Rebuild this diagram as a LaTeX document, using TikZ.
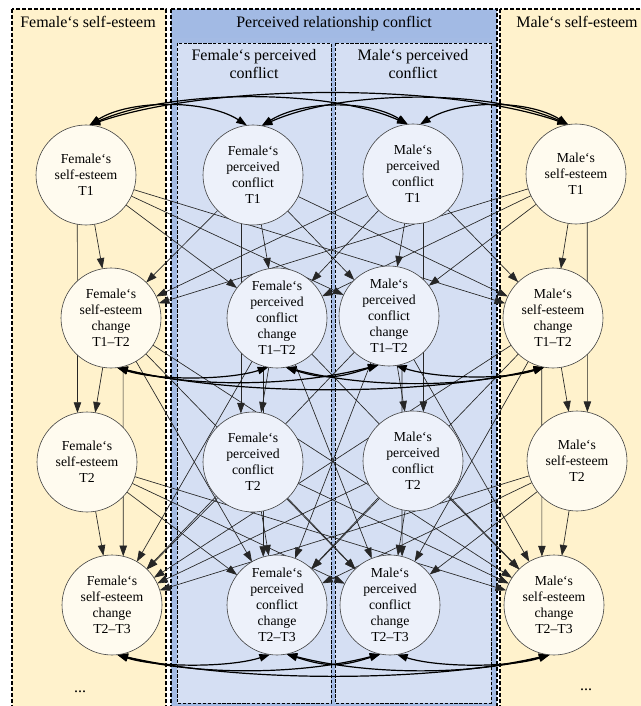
\documentclass[tikz,border=0pt]{standalone}
\usepackage{fontspec}
\setmainfont{Liberation Serif}
\usetikzlibrary{arrows.meta}
\pgfdeclarelayer{bg}
\pgfdeclarelayer{edges}
\pgfsetlayers{bg,edges,main}
\definecolor{beige}{HTML}{FFF2CC}
\definecolor{beigenode}{HTML}{FFFBEF}
\definecolor{bluebody}{HTML}{A4BBE4}
\definecolor{bluehead}{HTML}{A2BAE4}
\definecolor{blueinner}{HTML}{D5DFF3}
\definecolor{bluenode}{HTML}{EDF1FA}
\tikzset{
  var/.style={circle, draw=black!75, line width=0.45pt, minimum size=75pt, inner sep=0pt, outer sep=0pt, align=center, font=\fontsize{10.3}{12}\selectfont},
  fsnode/.style={var, fill=beigenode},
  bcnode/.style={var, fill=bluenode},
  reg/.style={-{Triangle[length=8pt,width=5.6pt]}, line width=0.5pt, black!85},
  cov/.style={{Triangle[length=8pt,width=5.6pt]}-{Triangle[length=8pt,width=5.6pt]}, line width=0.9pt, black},
  panelline/.style={draw=black, line width=0.9pt, dash pattern=on 3pt off 1.5pt},
  innerline/.style={draw=black, line width=0.6pt, dash pattern=on 2.5pt off 1.2pt},
  titletext/.style={font=\fontsize{12}{13.5}\selectfont, align=center, inner sep=0pt},
}
\begin{document}
\begin{tikzpicture}[x=0.75pt, y=-0.75pt]
\useasboundingbox (0,0) rectangle (641,706);
\clip (0,0) rectangle (641,706);
\begin{pgfonlayer}{bg}
  \fill[white] (0,0) rectangle (641,706);
  \path[fill=beige, panelline] (12,9) rectangle (166,720);
  \path[fill=beige, panelline] (500,9) rectangle (660,720);
  \path[fill=bluebody, panelline] (171,9) rectangle (497,720);
  \fill[bluehead] (172,10) rectangle (496,38);
  \path[fill=blueinner, innerline] (177,43) rectangle (331,703);
  \path[fill=blueinner, innerline] (335,43) rectangle (491,703);
\end{pgfonlayer}

% titles
\node[titletext] (tFS) at (88,22) {Female‘s self-esteem};
\node[titletext] (tPC) at (334,24) {Perceived relationship conflict};
\node[titletext] (tMS) at (577,22) {Male‘s self-esteem};
\node[titletext] (tFC) at (254,64) {Female‘s perceived\\conflict};
\node[titletext] (tMC) at (413,64) {Male‘s perceived\\conflict};
\node[titletext] (dotsL) at (80,692) {...};
\node[titletext] (dotsR) at (586,690) {...};

% nodes row 1
\node[fsnode] (FS1) at (86,175) {Female‘s\\self-esteem\\T1};
\node[bcnode] (FC1) at (253,175) {Female‘s\\perceived\\conflict\\T1};
\node[bcnode] (MC1) at (413,174) {Male‘s\\perceived\\conflict\\T1};
\node[fsnode] (MS1) at (576,174) {Male‘s\\self-esteem\\T1};
% row 2
\node[fsnode] (FSd1) at (111,318) {Female‘s\\self-esteem\\change\\T1–T2};
\node[bcnode] (FCd1) at (277,318) {Female‘s\\perceived\\conflict\\change\\T1–T2};
\node[bcnode] (MCd1) at (389,316) {Male‘s\\perceived\\conflict\\change\\T1–T2};
\node[fsnode] (MSd1) at (553,318) {Male‘s\\self-esteem\\change\\T1–T2};
% row 3
\node[fsnode] (FS2) at (87,462) {Female‘s\\self-esteem\\T2};
\node[bcnode] (FC2) at (253,462) {Female‘s\\perceived\\conflict\\T2};
\node[bcnode] (MC2) at (413,461) {Male‘s\\perceived\\conflict\\T2};
\node[fsnode] (MS2) at (577,461) {Male‘s\\self-esteem\\T2};
% row 4
\node[fsnode] (FSd2) at (112,605) {Female‘s\\self-esteem\\change\\T2–T3};
\node[bcnode] (FCd2) at (277,605) {Female‘s\\perceived\\conflict\\change\\T2–T3};
\node[bcnode] (MCd2) at (390,605) {Male‘s\\perceived\\conflict\\change\\T2–T3};
\node[fsnode] (MSd2) at (554,605) {Male‘s\\self-esteem\\change\\T2–T3};

\begin{pgfonlayer}{edges}
  % T1 -> change T1-T2
  \foreach \a in {FS1,FC1,MC1,MS1}
    \foreach \b in {FSd1,FCd1,MCd1,MSd1}
      \draw[reg] (\a) -- (\b);
  % T2 -> change T2-T3
  \foreach \a in {FS2,FC2,MC2,MS2}
    \foreach \b in {FSd2,FCd2,MCd2,MSd2}
      \draw[reg] (\a) -- (\b);
  % change T1-T2 -> change T2-T3 (cross)
  \foreach \a/\b in {FSd1/FCd2, FSd1/MCd2, FSd1/MSd2, FCd1/FSd2, FCd1/MCd2, FCd1/MSd2,
                     MCd1/FSd2, MCd1/FCd2, MCd1/MSd2, MSd1/FSd2, MSd1/FCd2, MSd1/MCd2}
    \draw[reg] (\a) -- (\b);
  % change T1-T2 -> T2
  \foreach \a/\b in {FSd1/FS2, FCd1/FC2, MCd1/MC2, MSd1/MS2}
    \draw[reg] (\a) -- (\b);
  % T1 -> T2 (behind change nodes)
  \draw[reg] (FS1.-100) -- (FS2.101);
  \draw[reg] (FC1.-104) -- (FC2.104);
  \draw[reg] (MC1.-78) -- (MC2.78);
  \draw[reg] (MS1.-77) -- (MS2.78);
  % change -> change same construct (behind T2 nodes)
  \draw[reg] (FSd1.-76) -- (FSd2.77);
  \draw[reg] (FCd1.-106) -- (FCd2.106);
  \draw[reg] (MCd1.-75) -- (MCd2.76);
  \draw[reg] (MSd1.-103) -- (MSd2.104);

  % covariances T1
  \draw[cov] (FS1.86) .. controls +(40,-26) and +(-40,-26) .. (FC1.97);
  \draw[cov] (FS1.86) .. controls +(80,-36) and +(-80,-36) .. (MC1.96);
  \draw[cov] (FS1.86) .. controls +(120,-42) and +(-120,-42) .. (MS1.99);
  \draw[cov] (FC1.80) .. controls +(40,-25) and +(-40,-25) .. (MC1.96);
  \draw[cov] (FC1.80) .. controls +(80,-36) and +(-80,-36) .. (MS1.99);
  \draw[cov] (MC1.82) .. controls +(40,-25) and +(-40,-25) .. (MS1.99);
  % covariances change T1-T2
  \draw[cov] (FSd1.-83) .. controls +(40,13) and +(-40,13) .. (FCd1.-100);
  \draw[cov] (FSd1.-83) .. controls +(80,21) and +(-80,21) .. (MCd1.-102);
  \draw[cov] (FSd1.-83) .. controls +(120,29) and +(-120,29) .. (MSd1.-100);
  \draw[cov] (FCd1.-80) .. controls +(40,13) and +(-40,13) .. (MCd1.-102);
  \draw[cov] (FCd1.-80) .. controls +(80,21) and +(-80,21) .. (MSd1.-100);
  \draw[cov] (MCd1.-82) .. controls +(40,13) and +(-40,13) .. (MSd1.-100);
  % covariances change T2-T3
  \draw[cov] (FSd2.-84) .. controls +(40,13) and +(-40,13) .. (FCd2.-98);
  \draw[cov] (FSd2.-84) .. controls +(80,21) and +(-80,21) .. (MCd2.-101);
  \draw[cov] (FSd2.-84) .. controls +(120,28) and +(-120,28) .. (MSd2.-95);
  \draw[cov] (FCd2.-79) .. controls +(40,13) and +(-40,13) .. (MCd2.-101);
  \draw[cov] (FCd2.-79) .. controls +(80,21) and +(-80,21) .. (MSd2.-95);
  \draw[cov] (MCd2.-82) .. controls +(40,13) and +(-40,13) .. (MSd2.-95);
\end{pgfonlayer}
\end{tikzpicture}
\end{document}
